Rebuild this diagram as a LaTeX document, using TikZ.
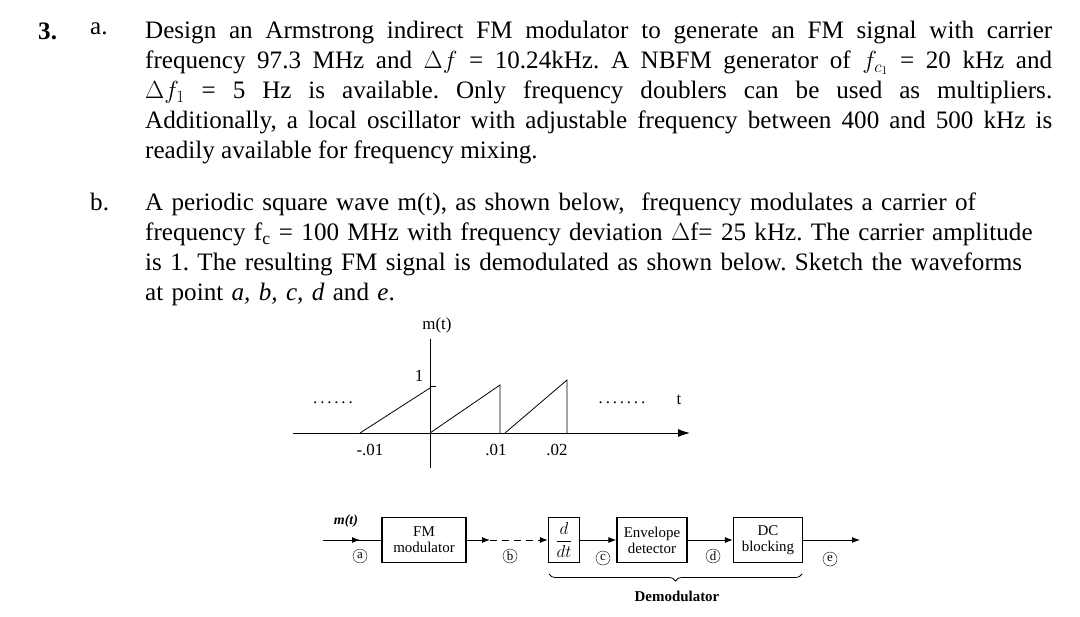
\documentclass[tikz,border=0pt]{standalone}
\usepackage{fontspec}
\setmainfont{Liberation Serif}
\usetikzlibrary{arrows.meta,decorations.pathreplacing}
\frenchspacing
\begin{document}
\begin{tikzpicture}[x=1bp,y=-1bp,
  para/.style={anchor=north west,inner sep=0pt,font=\fontsize{25.2}{30}\selectfont\frenchspacing},
  blk/.style={draw,line width=1.2pt,minimum height=45bp,inner sep=1pt,align=center,font=\fontsize{15}{16}\selectfont},
  circ/.style={circle,draw,inner sep=0pt,minimum size=14bp,font=\fontsize{13}{13}\selectfont},
  lbl/.style={font=\fontsize{17}{18}\selectfont},
  arr/.style={-{Latex[length=8bp]},line width=1pt}]
\useasboundingbox (0,0) rectangle (1080,617);
\node[para] (n3) at (38,23) {\textbf{3.}};
\node[para] (na) at (90,23) {a.};
\node[para,text width=907bp,align=justify] (ta) at (145,21) {Design an Armstrong indirect FM modulator to generate an FM signal with carrier\linebreak frequency 97.3 MHz and $\Delta f$ = 10.24kHz. A NBFM generator of $f_{c_1}$ = 20 kHz and\linebreak $\Delta f_1$ = 5 Hz is available. Only frequency doublers can be used as multipliers.\linebreak Additionally, a local oscillator with adjustable frequency between 400 and 500 kHz is\linebreak readily available for frequency mixing.};
\node[para] (nb) at (90,193) {b.};
\node[para,text width=920bp,align=left] (tb) at (145,193) {A periodic square wave m(t), as shown below,\ \ frequency modulates a carrier of\\ frequency f\textsubscript{c} = 100 MHz with frequency deviation $\Delta$f= 25 kHz. The carrier amplitude\\ is 1. The resulting FM signal is demodulated as shown below. Sketch the waveforms\\ at point \textit{a, b, c, d} and \textit{e}.};
% plot
\coordinate (xs) at (293,433); \coordinate (xe) at (690,433);
\coordinate (ys) at (430,339); \coordinate (ye) at (430,468);
\draw[-{Latex[length=12bp,width=8bp]},line width=1pt] (xs) -- (xe);
\draw[line width=0.8pt] (ye) -- (ys);
\draw[line width=0.8pt] (360,433) -- (430,388);
\draw[line width=0.8pt] (430,433) -- (500,385) -- (500,433);
\draw[line width=0.8pt] (505,433) -- (567,380) -- (567,433);
\draw[line width=0.8pt] (430,386) -- (436,386);
\node[lbl] (one) at (419,376) {1};
\node[lbl] (mt) at (437,325) {m(t)};
\node[lbl] (t) at (679,400) {t};
\node[lbl] (l1) at (370,450) {-.01};
\node[lbl] (l2) at (496,450) {.01};
\node[lbl] (l3) at (557,450) {.02};
\node[lbl] (d1) at (333,403) {.\,.\,.\,.\,.\,.};
\node[lbl] (d2) at (622,403) {.\,.\,.\,.\,.\,.\,.};
% block diagram
\node[blk,minimum width=84bp] (fm) at (424,540) {FM\\modulator};
\node[blk,minimum width=31bp,font=\fontsize{16}{16}\selectfont] (dd) at (564,540) {$\displaystyle\frac{d}{dt}$};
\node[blk,minimum width=70bp] (env) at (652,540) {Envelope\\detector};
\node[blk,minimum width=69bp] (dc) at (768,540) {DC\\blocking};
\coordinate (in) at (323,540); \coordinate (out) at (860,540);
\coordinate (ma) at (360,540); \coordinate (mb) at (490,540);
\draw[line width=1pt] (in) -- (fm.west);
\draw[arr] (in) -- (ma);
\draw[arr] (fm.east) -- (mb);
\draw[arr,dash pattern=on 7bp off 5bp] (mb) -- (dd.west);
\draw[arr] (dd.east) -- (env.west);
\draw[arr] (env.east) -- (dc.west);
\draw[arr] (dc.east) -- (out);
\node[font=\fontsize{14}{14}\selectfont\itshape\bfseries] (mtl) at (346,521) {m(t)};
\node[circ] (ca) at (360,556) {a};
\node[circ] (cb) at (510,556) {b};
\node[circ] (cc) at (603,558) {c};
\node[circ] (cd) at (713,556) {d};
\node[circ] (ce) at (830,559) {e};
\draw[decorate,decoration={brace,mirror,amplitude=7pt},line width=0.8pt] (549,574) -- (802,574);
\node[font=\fontsize{15}{16}\selectfont\bfseries] (dem) at (677,596) {Demodulator};
\end{tikzpicture}
\end{document}
